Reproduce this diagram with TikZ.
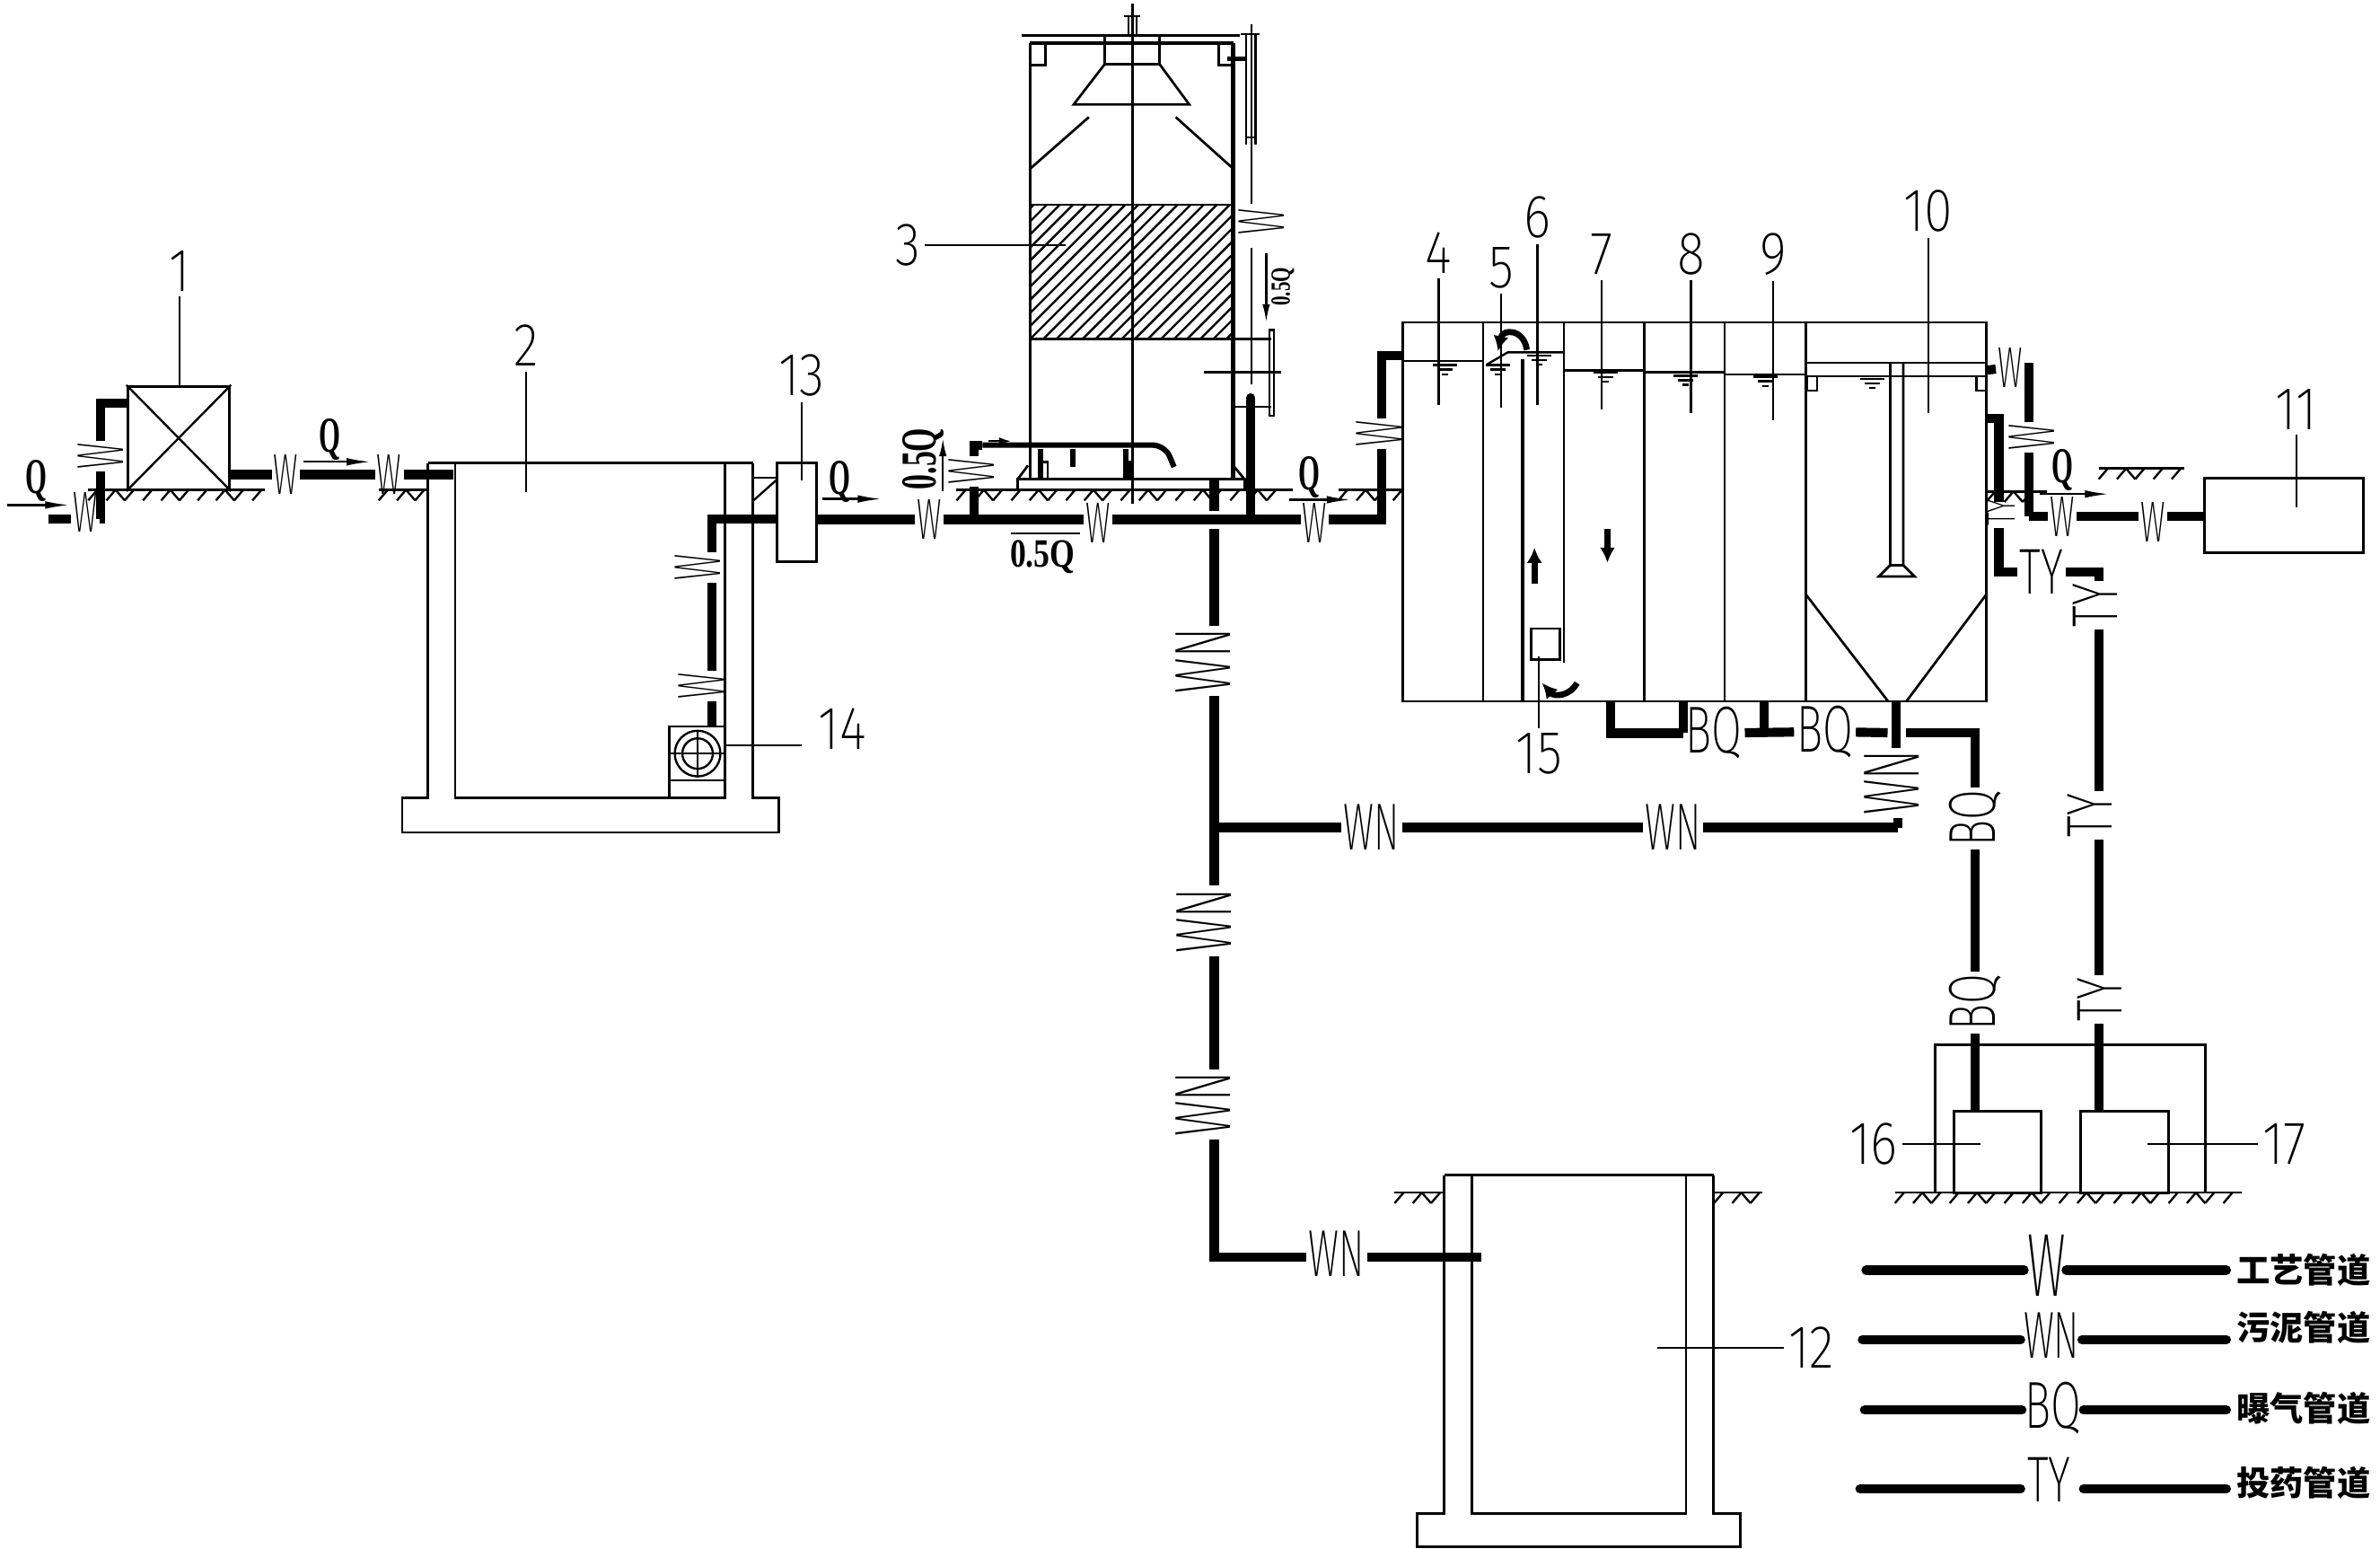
\documentclass[tikz,border=0pt]{standalone}
\usepackage{fontspec}
\usetikzlibrary{arrows.meta}
\newfontfamily\cadfont{Fira Sans ExtraLight}
\newfontfamily\flowfont{Liberation Serif}
\newfontfamily\cjkfont{Noto Sans CJK SC}
\newcommand{\groundline}[3]{%
  \draw[wall] (#1,#3) -- (#2,#3);
  \foreach \gx in {#1,...,#2} {
    \pgfmathtruncatemacro{\gm}{mod(\gx-#1,12)}
    \pgfmathtruncatemacro{\gn}{mod(\gx-#1,36)}
    \ifnum\gm=6 \draw[leader] (\gx,#3) -- ++(-6,7); \fi
    \ifnum\gn=24 \draw[leader] (\gx-6,#3) -- ++(6,7); \fi
  }}
\newcommand{\wlevel}[2]{%
  \draw[leader] (#1-8,#2) -- (#1+8,#2);
  \draw[leader] (#1-5,#2+3) -- (#1+5,#2+3);
  \draw[leader] (#1-2,#2+6) -- (#1+2,#2+6);}
\tikzset{
  wall/.style={line width=.8pt},
  leader/.style={line width=.7pt},
  pipe/.style={line width=3pt},
  spray/.style={line width=1.8pt},
  boxnode/.style={draw,line width=.9pt,inner sep=0pt},
  pl/.style={font={\cadfont\fontsize{19}{19}\selectfont},inner sep=0pt,outer sep=1.2pt,transform shape},
  plw/.style={pl,xscale=.53},
  plwr/.style={pl,scale=1.15,xscale=.49},
  plwn/.style={pl,scale=1.15,xscale=.57},
  plwnr/.style={pl,scale=1.38,xscale=.553},
  plbq/.style={pl,scale=1.15,xscale=.66},
  plty/.style={pl,scale=1.12,xscale=.67},
  numlbl/.style={font={\cadfont\fontsize{20}{20}\selectfont},inner sep=1.5pt,transform shape,xscale=.85},
  qlbl/.style={font={\flowfont\bfseries\fontsize{16.5}{16.5}\selectfont},inner sep=0pt,transform shape,xscale=.55},
  flow/.style={leader,-{Latex[length=8pt,width=2.5pt]}},
  bigflow/.style={line width=2pt,-{Latex[length=5pt,width=5pt]}},
  legendtxt/.style={font={\cjkfont\bfseries\fontsize{11}{11}\selectfont},inner sep=0pt,anchor=west}
}
\begin{document}
\begin{tikzpicture}[x=.5pt,y=-.5pt,line width=.7pt]
  \useasboundingbox (0,0) rectangle (1565,1018.3);
  % grounds
  \groundline{58}{174}{322}
  \groundline{249}{281}{322}
  \groundline{629}{850}{322}
  \groundline{880}{922}{322}
  \groundline{1306}{1346}{323}
  \groundline{1380}{1436}{308}
  \groundline{1246}{1474}{784}
  \groundline{917}{950}{784}
  \groundline{1127}{1159}{784}
  % boxes
  \node[boxnode,minimum width=33.5pt,minimum height=34pt] (box1) at (117.5,288) {};
  \draw (box1.north west) -- (box1.south east);
  \draw (box1.north east) -- (box1.south west);
  \node[boxnode,minimum width=13pt,minimum height=32.3pt] (box13) at (524,336.7) {};
  \node[boxnode,minimum width=52.2pt,minimum height=24.4pt] (box11) at (1501.7,339) {};
  \node[boxnode,minimum width=28.5pt,minimum height=26.7pt] (box16) at (1313.5,757.3) {};
  \node[boxnode,minimum width=29pt,minimum height=26.7pt] (box17) at (1397,757.3) {};
  \draw[wall] (1272.6,784) -- (1272.6,687) -- (1450,687) -- (1450,784);
  % tank 2 and pump
  \draw[wall] (299.3,304.4) -- (299.3,524.4) -- (476.6,524.4) -- (476.6,304.4);
  \draw[wall] (281.4,304.4) -- (495,304.4);
  \draw[wall] (281.4,304.4) -- (281.4,524.4) -- (264.4,524.4) -- (264.4,547.3) -- (512.2,547.3) -- (512.2,524.4) -- (495,524.4) -- (495,304.4);
  \draw (495,314) -- (511.2,314);
  \draw (495,329.4) -- (511.2,315);
  \draw[wall] (440,524.4) -- (440,477.5) -- (476.6,477.5);
  \draw (440,513) -- (476.6,513);
  \draw (458.7,495.4) circle[radius=15];
  \draw (458.7,495.4) circle[radius=10];
  \draw (440,495.4) -- (476.6,495.4);
  \draw (458.7,480) -- (458.7,511);
  % tower 3
  \draw[wall] (677.4,28.4) -- (677.4,315);
  \draw[line width=1.4pt] (810.9,28.4) -- (810.9,315);
  \draw (672,23.4) -- (815,23.4);
  \draw[line width=1.4pt] (677.4,28.4) -- (810.9,28.4);
  \draw (744.7,2.4) -- (744.7,331.4);
  \draw (739.3,10.8) -- (750,10.8);
  \draw (742.2,10.8) -- (742.2,23.4);
  \draw (747.2,10.8) -- (747.2,23.4);
  \draw[wall] (677.4,42.9) -- (687.3,42.9) -- (687.3,28.4);
  \draw[wall] (810.9,42.9) -- (801.4,42.9) -- (801.4,28.4);
  \draw (726.4,24) -- (726.4,42.2);
  \draw (762.5,24) -- (762.5,42.2);
  \draw[wall] (726.4,42.2) -- (762.5,42.2) -- (782,68.7) -- (706,68.7) -- cycle;
  \draw[wall] (677.4,110.9) -- (716,77);
  \draw[wall] (810.9,110.9) -- (773.1,77);
  \begin{scope}
    \clip (677.4,134.5) rectangle (810.9,222.9);
    \foreach \k in {-11,...,16}
      \draw[leader] (677.4+\k*8.6,222.9) -- ++(88.4,-88.4);
  \end{scope}
  \draw (677.4,134.5) -- (810.9,134.5);
  \draw (677.4,222.9) -- (810.9,222.9);
  \draw[wall] (669.2,322.2) -- (669.2,315) -- (818.3,315) -- (818.3,322.2);
  \draw[wall] (669.2,315) -- (676,306);
  \draw[wall] (810.9,306) -- (818.3,315);
  % gauge on tower
  \draw (822.8,15.7) -- (822.8,133.8);
  \draw (822.8,162.7) -- (822.8,252.6);
  \draw[wall] (816,22.4) -- (828.5,22.4);
  \draw (819.5,22.4) -- (819.5,95.2);
  \draw (825.6,22.4) -- (825.6,95.2);
  \draw (819.5,90.4) -- (825.6,90.4);
  \draw[line width=1.4pt] (807,38.6) -- (819.5,38.6);
  \draw (810.9,222.9) -- (836,222.9);
  \draw (810.9,267.5) -- (836,267.5);
  \draw (834.6,216.9) rectangle (837.8,273.5);
  \draw (791.9,244.6) -- (842.7,244.6);
  % reactor
  \draw[wall] (922.2,212) rectangle (1306.3,461);
  \draw[wall] (975.3,212) -- (975.3,461);
  \draw[line width=1.2pt] (1001.2,236) -- (1001.2,461);
  \draw[wall] (1028.3,212) -- (1028.3,435.6);
  \draw[wall] (1081.3,212) -- (1081.3,461);
  \draw[wall] (1134,212) -- (1134,461);
  \draw[wall] (1187.3,212) -- (1187.3,461);
  \draw (922.2,237.3) -- (975.3,237.3);
  \draw (977.4,239.8) -- (991.5,231.6) -- (1028.3,231.6);
  \draw (1028.3,243.5) -- (1081.3,243.5);
  \draw (1081.3,244.7) -- (1134,244.7);
  \draw (1134,246) -- (1187.3,246);
  \draw (1187.3,238.5) -- (1306.3,238.5);
  \draw (1194,247.2) -- (1299.6,247.2);
  \draw (1188,247.2) rectangle (1195,256.7);
  \draw (1299.6,247.2) rectangle (1306,256.7);
  \wlevel{950.3}{240}
  \wlevel{984.9}{240}
  \wlevel{1012}{233.6}
  \wlevel{1055.7}{245}
  \wlevel{1108.4}{247}
  \wlevel{1161}{247.7}
  \wlevel{1231.3}{249}
  \draw[wall] (1006.9,413.2) rectangle (1025.6,433.6);
  \draw[wall] (1243,239) -- (1243,371.5) -- (1235.5,379) -- (1259,379) -- (1251.5,371.5) -- (1251.5,239);
  \draw[wall] (1243,371.5) -- (1251.5,371.5);
  \draw[wall] (1187.3,390.6) -- (1241.5,461);
  \draw[wall] (1306.3,390.6) -- (1253.6,461);
  \draw[bigflow] (1009,384) -- (1009,360);
  \draw[bigflow] (1057,348) -- (1057,370);
  \draw[bigflow] (1004,230) .. controls (1002,216) and (988,216) .. (985,231);
  \draw[bigflow] (1037,449) .. controls (1032,458) and (1022,458) .. (1014,449);
  % tank 12
  \draw[wall] (967.7,772.5) -- (967.7,994.9) -- (1108.7,994.9) -- (1108.7,772.5);
  \draw[wall] (949.6,772.5) -- (1126.7,772.5);
  \draw[wall] (949.6,772.5) -- (949.6,994.9) -- (931.9,994.9) -- (931.9,1016.7) -- (1144.5,1016.7) -- (1144.5,994.9) -- (1126.7,994.9) -- (1126.7,772.5);
  % pipe labels, W line
  \node[plw] (wa) at (56,337) {W};
  \node[rotate=90,plwr] (wb) at (66,300) {W};
  \node[plw] (wc) at (188,312) {W};
  \node[plw] (wd) at (256,312) {W};
  \node[rotate=90,plwr] (we) at (459,373) {W};
  \node[rotate=90,plwr] (wf) at (461,451) {W};
  \node[plw] (mw1) at (611,341.5) {W};
  \node[plw] (mw2) at (722,344) {W};
  \node[plw] (mw3) at (864.6,344) {W};
  \node[rotate=90,plwr] (wg) at (907,285) {W};
  \node[rotate=90,plwr] (wh) at (639,310) {W};
  \node[rotate=90,plwr] (wi) at (829.6,146) {W};
  \node[plw] (wo1) at (1321.7,241.5) {W};
  \node[rotate=90,plwr] (wo2) at (1336,287.4) {W};
  \node[plw] (wo3) at (1356,340) {W};
  \node[plw] (wo4) at (1415.7,343) {W};
  \coordinate (ina) at (32,341);
  \coordinate (box1in) at (84,265);
  \coordinate (tank2in) at (298.3,312);
  \coordinate (pumptop) at (468,477.5);
  \coordinate (b13in) at (511.2,341.3);
  \coordinate (reactorin) at (922,233.6);
  \coordinate (tee1) at (640.3,341.5);
  \coordinate (spraya) at (646,292.6);
  \coordinate (sprayb) at (766,292.6);
  \coordinate (sprayc) at (772,307);
  \coordinate (tee2) at (822.4,341.5);
  \coordinate (towerout) at (822.4,261.5);
  \coordinate (rout) at (1306,243.4);
  \coordinate (routb) at (1334,339.4);
  \coordinate (gta) at (908.7,341.5);
  \draw[pipe] (ina) -- (ina -| wa.west);
  \draw[pipe] (ina -| wa.east) -| (wb);
  \draw[pipe] (wb) |- (box1in);
  \draw[pipe] (box1.east |- wc) -- (wc);
  \draw[pipe] (wc) -- (wd);
  \draw[pipe] (wd) -- (tank2in);
  \draw[pipe] (pumptop) -- (pumptop |- wf.west);
  \draw[pipe] (pumptop |- wf.east) -- (pumptop |- we.west);
  \draw[pipe] (pumptop |- we.east) |- (b13in);
  \draw[pipe] (box13.east |- mw1) -- (mw1);
  \draw[pipe] (mw1) -- (mw2.west |- mw1);
  \draw[pipe] (mw2.east |- mw1) -- (mw3.west |- mw1);
  \draw[pipe] (mw3.east |- mw1) -- (gta) -- (gta |- wg.west);
  \draw[pipe] (gta |- wg.east) |- (reactorin);
  \draw[pipe] (tee1) -- (tee1 |- wh.west);
  \draw[pipe] (tee1 |- wh.east) |- (spraya);
  \draw[spray,rounded corners=4pt] (spraya) -- (sprayb) -- (sprayc);
  \draw[spray] (684,295) -- (684,314.5);
  \draw[spray] (705.4,295) -- (705.4,307);
  \draw[spray] (740.4,295) -- (740.4,314.5);
  \draw (684,303.7) -- (689,303.7) -- (689,314.5);
  \draw (740.4,303.7) -- (743,303.7) -- (743,314.5);
  \draw[pipe,line cap=round] (towerout) -- (tee2);
  \draw[pipe] (rout) -- (wo1);
  \draw[pipe] (wo1) -| (routb |- wo2.east);
  \draw[pipe] (routb |- wo2.west) -- (routb);
  \draw[pipe] (routb) -- (wo3.west |- routb);
  \draw[pipe] (wo3.east |- routb) -- (wo4.west |- routb);
  \draw[pipe] (wo4.east |- routb) -- (box11.west |- routb);
  % WN line
  \node[rotate=90,plwnr] (wn1) at (791,434.4) {WN};
  \node[rotate=90,plwnr] (wn2) at (792,605.4) {WN};
  \node[rotate=90,plwnr] (wn3) at (791,726) {WN};
  \node[plwn] (wn4) at (879,824.4) {WN};
  \node[plwn] (wn5) at (902,544) {WN};
  \node[plwn] (wn6) at (1100,544) {WN};
  \node[rotate=90,plwnr] (wn7) at (1244,514.6) {WN};
  \coordinate (wtop) at (798.4,316);
  \coordinate (wtopb) at (798.4,348);
  \coordinate (wtopa) at (798.4,336);
  \coordinate (wj) at (798.4,544);
  \coordinate (wnbend) at (798.4,826.5);
  \coordinate (t12in) at (974,826.5);
  \coordinate (sludge) at (1247,461);
  \coordinate (sludgeb) at (1247,492);
  \coordinate (wnend) at (1248,544);
  \draw[pipe] (wtop) -- (wtopa);
  \draw[pipe] (wtopb) -- (wtopb |- wn1.east);
  \draw[pipe] (wtopb |- wn1.west) -- (wtopb |- wn2.east);
  \draw[pipe] (wtopb |- wn2.west) -- (wtopb |- wn3.east);
  \draw[pipe] (wtopb |- wn3.west) -- (wnbend) -- (wnbend -| wn4.west);
  \draw[pipe] (wnbend -| wn4.east) -- (t12in);
  \draw[pipe] (wj) -- (wn5);
  \draw[pipe] (wn5) -- (wn6);
  \draw[pipe] (wn6) -- (wnend);
  \draw[pipe] (wnend) -- (wnend |- wn7.west);
  \draw[pipe] (sludge) -- (sludgeb);
  % BQ line
  \node[plbq] (bq1) at (1127,482) {BQ};
  \node[plbq] (bq2) at (1200,481) {BQ};
  \node[rotate=90,plbq] (bq3) at (1298.6,538) {BQ};
  \node[rotate=90,plbq] (bq4) at (1298.6,659) {BQ};
  \coordinate (bqa) at (1059.3,461);
  \coordinate (bqb) at (1106.9,461);
  \coordinate (bqc) at (1160,461);
  \coordinate (bqd) at (1241.2,481.7);
  \coordinate (bqe) at (1253,481.7);
  \draw[pipe] (bqa) |- (bq1);
  \draw[pipe] (bqb) -- (bqb |- bq1);
  \draw[pipe] (bq1) -- (bq2);
  \draw[pipe] (bqc) -- (bqc |- bq1);
  \draw[pipe] (bq2) -- (bqd);
  \draw[pipe] (bqe) -| (bq3);
  \draw[pipe] (bq3) -- (bq4);
  \draw[pipe] (bq4) -- (bq4 |- box16.north);
  % TY line
  \node[rotate=90,pl,scale=.7,xscale=.67] (ty0) at (1316,337) {TY};
  \node[plty] (ty1) at (1342.4,376) {TY};
  \node[rotate=90,plty] (ty2) at (1378,398) {TY};
  \node[rotate=90,plty] (ty3) at (1374,536) {TY};
  \node[rotate=90,plty] (ty4) at (1381,657) {TY};
  \coordinate (tya) at (1306,275);
  \coordinate (tyb) at (1380,376);
  \coordinate (tyc) at (1314.4,275);
  \coordinate (tyd) at (1314.4,330);
  \coordinate (tye) at (1314.4,347);
  \draw[pipe] (tya) -- (tyc) -- (tyd);
  \draw[pipe] (tye) |- (ty1);
  \draw[pipe] (ty1) -| (tyb |- ty2.east);
  \draw[pipe] (tyb |- ty2.west) -- (tyb |- ty3.east);
  \draw[pipe] (tyb |- ty3.west) -- (tyb |- ty4.east);
  \draw[pipe] (tyb |- ty4.west) -- (tyb |- box17.north);
  % flow marks
  \node[qlbl] (q1) at (23.7,316) {Q};
  \node[qlbl] (q2) at (217,289) {Q};
  \node[qlbl] (q3) at (552,317) {Q};
  \node[qlbl] (q4) at (861.2,314) {Q};
  \node[qlbl] (q5) at (1356.3,309) {Q};
  \coordinate (fa1) at (5,332);
  \coordinate (fa2) at (45.8,332);
  \coordinate (fb1) at (199.3,303.6);
  \coordinate (fb2) at (244,303.6);
  \coordinate (fc1) at (541,328);
  \coordinate (fc2) at (580,328);
  \coordinate (fd1) at (847.7,328.5);
  \coordinate (fd2) at (888.4,328.5);
  \coordinate (fe1) at (1341.4,324.8);
  \coordinate (fe2) at (1387,324.8);
  \draw[flow] (fa1) -- (fa2);
  \draw[flow] (fb1) -- (fb2);
  \draw[flow] (fc1) -- (fc2);
  \draw[flow] (fd1) -- (fd2);
  \draw[flow] (fe1) -- (fe2);
  \node[qlbl,scale=.8,xscale=1.45] (q05a) at (685.5,366.3) {0.5Q};
  \coordinate (fo1) at (664.7,350.7);
  \coordinate (fo2) at (709.9,350.7);
  \draw[leader] (fo1) -- (fo2);
  \node[rotate=90,qlbl,scale=1,xscale=1.1] (q05b) at (607,301.7) {0.5Q};
  \coordinate (fp1) at (620,323);
  \coordinate (fp2) at (620,288);
  \draw[leader,-{Latex[length=6pt,width=2.5pt]}] (fp1) -- (fp2);
  \node[rotate=90,qlbl,scale=.55,xscale=1.25] (q05c) at (843.6,188.5) {0.5Q};
  \coordinate (fq1) at (832.6,166.3);
  \coordinate (fq2) at (832.6,212);
  \draw[leader,-{Latex[length=6pt,width=2.5pt]}] (fq1) -- (fq2);
  \coordinate (fr1) at (650,290);
  \coordinate (fr2) at (665,290);
  \draw[leader,-{Latex[length=4pt,width=2.5pt]}] (fr1) -- (fr2);
  % numbers
  \foreach \num/\lx/\ly/\tx/\ty in {1/118/178/118/254,2/346/227/346/323.6,3/597/161/700.9/161,
    4/946/166/946/266,5/987/176/987/268,6/1011/143/1011/266,7/1053/167/1053/269,
    8/1112/167/1112/271.6,9/1166/167/1166/276.3,10/1268/139/1268/271.6,
    11/1510/269/1510/333.7,12/1191/886/1090/886,13/527/247/527/316,
    15/1012/495.7/1012/431.6,16/1232/752/1302/752,17/1502/752/1412/752}
  {
    \node[numlbl] (n\num) at (\lx,\ly) {\num};
    \coordinate (t\num) at (\tx,\ty);
    \draw[leader] (n\num) -- (t\num);
  }
  \node[numlbl] (n14) at (554,479) {14};
  \coordinate (s14) at (527,490);
  \coordinate (t14) at (476.6,490);
  \draw[leader] (s14) -- (t14);
  % legend
  \foreach \row/\yy/\xa/\xb/\xc/\cn/\ly in {
    a/835/1227/1331/1358.6/工艺管道/835,
    b/880.7/1224.6/1328.7/1369/污泥管道/873,
    c/927/1226/1329.6/1370/曝气管道/926,
    d/978.8/1223/1328.7/1370/投药管道/975}
  {
    \coordinate (la\row) at (\xa,\yy);
    \coordinate (lb\row) at (\xb,\yy);
    \coordinate (lc\row) at (\xc,\yy);
    \coordinate (ld\row) at (1464,\yy);
    \draw[pipe,line cap=round] (la\row) -- (lb\row);
    \draw[pipe,line cap=round] (lc\row) -- (ld\row);
    \node[legendtxt] (txt\row) at (1470,\ly) {\cn};
  }
  \node[plw,scale=1.55] (lw) at (1345.6,832) {W};
  \node[plwn] (lwn) at (1349,878) {WN};
  \node[plbq] (lbq) at (1350,926) {BQ};
  \node[plty] (lty) at (1347.5,973) {TY};
\end{tikzpicture}
\end{document}
